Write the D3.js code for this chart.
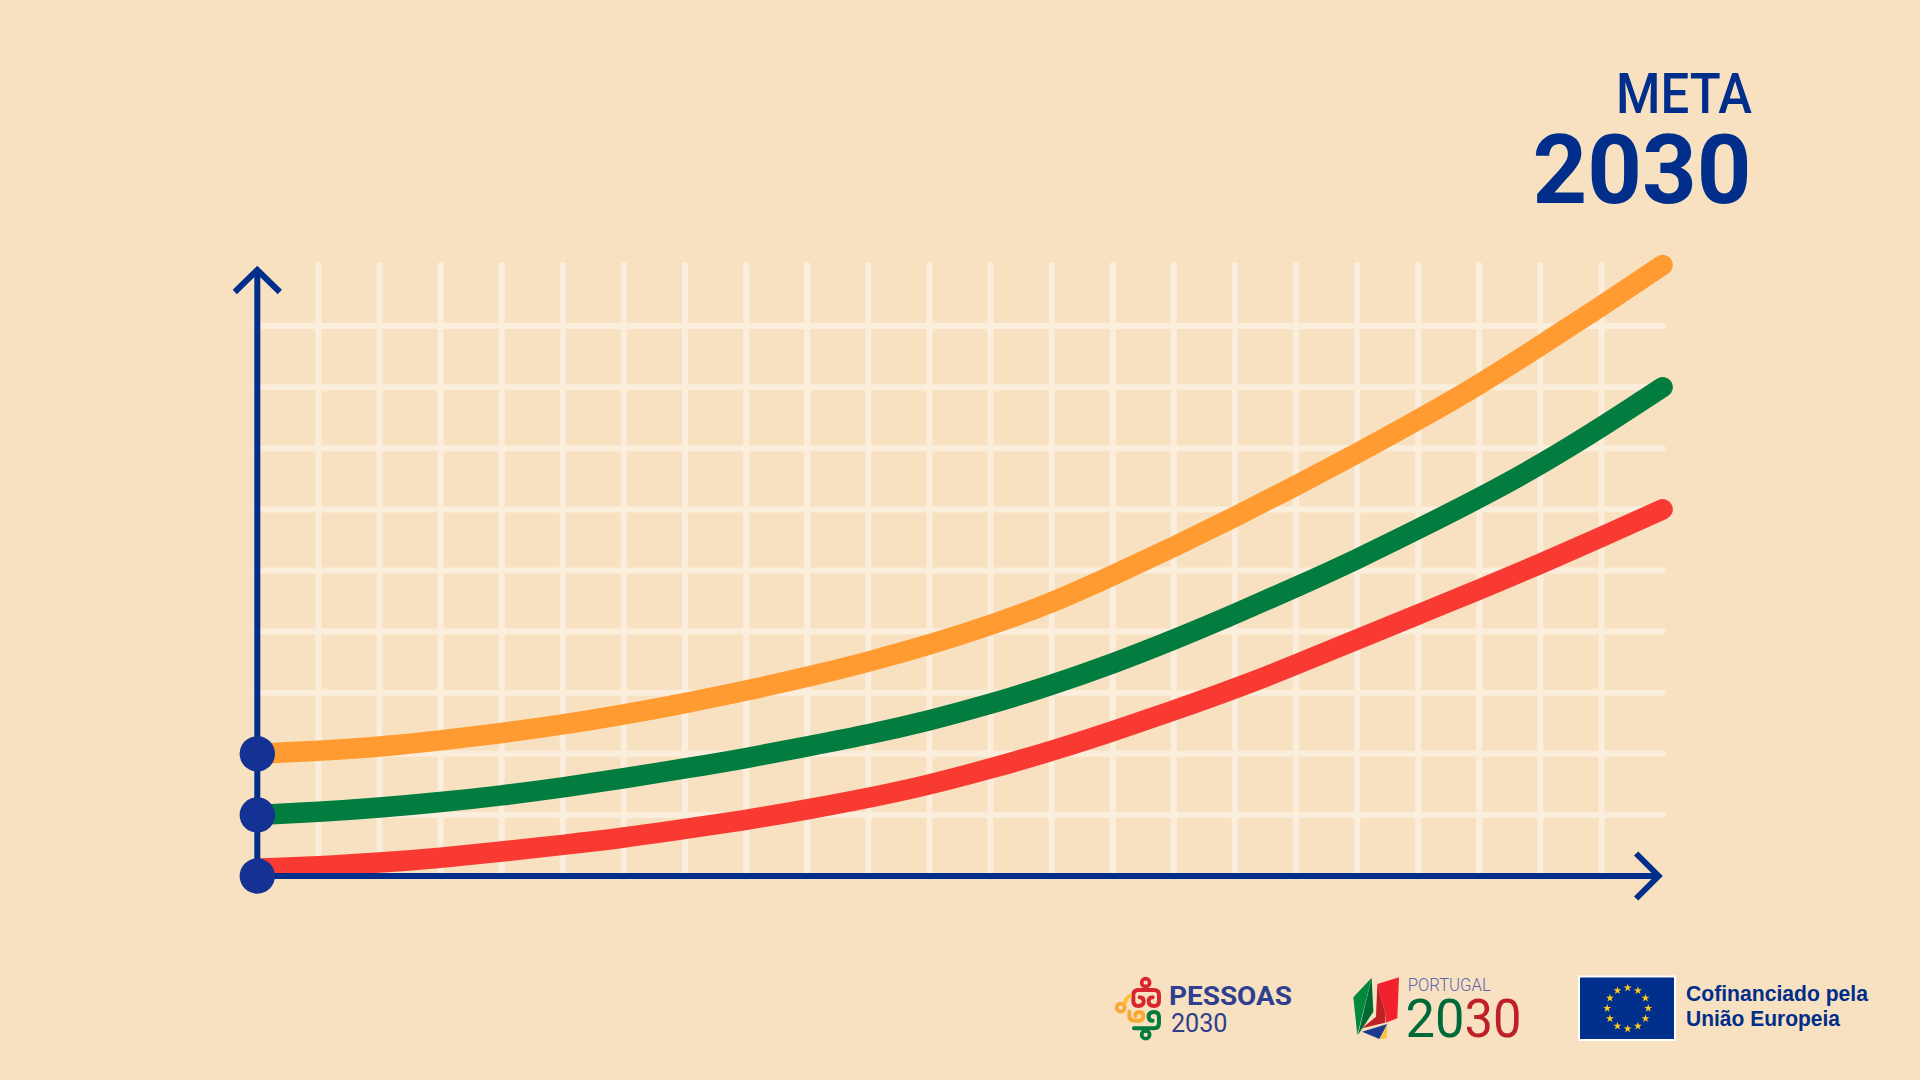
<!doctype html>
<html lang="pt">
<head>
	<meta charset="UTF-8">
	<title>Meta 2030</title>
	<style>
		html, body { margin: 0; padding: 0; background: #F8E1C1; }
		svg { display: block; }
	</style>
</head>
<body>
<script src="https://cdn.jsdelivr.net/npm/d3@7/dist/d3.min.js"></script>
<script>
// values, in grid squares from the origin
var steps = [0,1,2,3,4,5,6,7,8,9,10,11,12,13,14,15,16,17,18,19,20,21,22,23];
var orangeValues = [2.0,2.05,2.12,2.22,2.34,2.48,2.645,2.83,3.035,3.26,3.51,3.79,4.11,4.48,4.92,5.39,5.88,6.39,6.92,7.47,8.05,8.68,9.33,10.0];
var greenValues = [1.0,1.05,1.12,1.21,1.32,1.45,1.60,1.76,1.93,2.12,2.32,2.55,2.82,3.13,3.48,3.87,4.29,4.73,5.19,5.68,6.19,6.74,7.35,8.0];
var redValues = [0.12,0.16,0.22,0.30,0.40,0.51,0.63,0.77,0.92,1.09,1.28,1.50,1.76,2.05,2.37,2.71,3.07,3.46,3.87,4.28,4.69,5.11,5.55,6.0];
var startDots = [2, 1, 0];
var gridColumns = [1,2,3,4,5,6,7,8,9,10,11,12,13,14,15,16,17,18,19,20,21,22];
var gridRows = [1,2,3,4,5,6,7,8,9];

var WIDTH = 1920, HEIGHT = 1080;
var NAVY = "#002E8A", GRID = "#FBEEDD";

var svg = d3.select("body").append("svg")
	.attr("width", WIDTH)
	.attr("height", HEIGHT)
	.style("background", "#F8E1C1");

var x = d3.scaleLinear().domain([0, 23]).range([257.3, 1662.6]);
var y = d3.scaleLinear().domain([0, 10]).range([876, 265]);

// grid, done with plain axes with long ticks
var gridX = svg.append("g")
	.attr("transform", "translate(0," + y(0) + ")")
	.call(d3.axisBottom(x).tickValues(gridColumns).tickFormat("").tickSize(y(10) - y(0)).offset(0));
var gridY = svg.append("g")
	.attr("transform", "translate(" + x(0) + ",0)")
	.call(d3.axisLeft(y).tickValues(gridRows).tickFormat("").tickSize(x(0) - x(23)).offset(0));
[gridX, gridY].forEach(function(g) {
	g.select(".domain").remove();
	g.selectAll("line")
		.attr("stroke", GRID)
		.attr("stroke-width", 6)
		.attr("stroke-linecap", "round");
});

// curves
var line = d3.line()
	.x(function(d, i) { return x(steps[i]); })
	.y(function(d) { return y(d); })
	.curve(d3.curveNatural);

var curves = [
	{ values: redValues, color: "#F93A33" },
	{ values: greenValues, color: "#027D3F" },
	{ values: orangeValues, color: "#FF9B30" }
];
svg.selectAll("path.curve")
	.data(curves)
	.enter()
	.append("path")
	.attr("class", "curve")
	.attr("d", function(d) { return line(d.values); })
	.attr("fill", "none")
	.attr("stroke", function(d) { return d.color; })
	.attr("stroke-width", 20.5)
	.attr("stroke-linecap", "round");

// axes with their arrow heads
var axisPath = d3.path();
axisPath.moveTo(x(0), y(0));
axisPath.lineTo(x(0), y(10) + 5);
axisPath.moveTo(x(0) - 22.5, y(10) + 27);
axisPath.lineTo(x(0), y(10) + 5);
axisPath.lineTo(x(0) + 22.5, y(10) + 27);
axisPath.moveTo(x(0), y(0));
axisPath.lineTo(x(23) - 4, y(0));
axisPath.moveTo(x(23) - 26.5, y(0) - 22.5);
axisPath.lineTo(x(23) - 4, y(0));
axisPath.lineTo(x(23) - 26.5, y(0) + 22.5);
svg.append("path")
	.attr("d", axisPath.toString())
	.attr("fill", "none")
	.attr("stroke", NAVY)
	.attr("stroke-width", 6);

svg.selectAll("circle.start")
	.data(startDots)
	.enter()
	.append("circle")
	.attr("class", "start")
	.attr("cx", x(0))
	.attr("cy", function(d) { return y(d); })
	.attr("r", 17.7)
	.attr("fill", "#143293");

// title
function label(parent, str, px, py, size, weight, fam, color, len) {
	return parent.append("text")
		.attr("x", px)
		.attr("y", py)
		.attr("font-family", fam)
		.attr("font-size", size)
		.attr("font-weight", weight)
		.attr("fill", color)
		.attr("textLength", len)
		.attr("lengthAdjust", "spacingAndGlyphs")
		.text(str);
}
label(svg, "META", 1616, 112.7, 55, 500, "Roboto", NAVY, 136);
label(svg, "2030", 1532.5, 202.7, 97, 700, "Roboto", NAVY, 219);

// logos at the bottom, sketched at 3x so the coordinates match the crops
var logoA = svg.append("g").attr("transform", "translate(1080,960) scale(0.3333)");
function curl(d, color) {
	logoA.append("path").attr("d", d).attr("fill", "none").attr("stroke", color)
		.attr("stroke-width", 12).attr("stroke-linecap", "round");
}
function ring(cx, cy, color) {
	logoA.append("circle").attr("cx", cx).attr("cy", cy).attr("r", 12).attr("fill", "none")
		.attr("stroke", color).attr("stroke-width", 11);
}
ring(197, 68, "#D9262E");
curl("M197,80 L197,90 M175,90 L222,90 Q237,90 237,105 L237,122 Q237,138 222,138 Q206,138 206,124 Q206,112 218,112", "#D9262E");
curl("M175,90 Q160,90 160,105 L160,122 Q160,138 175,138 Q191,138 191,124 Q191,112 179,112", "#D9262E");
ring(122, 143, "#F9A833");
curl("M150,108 Q135,115 135,130", "#FBBE3A");
curl("M148,155 L148,168 Q148,182 165,182 L175,182 Q190,182 190,168 Q190,156 178,156 Q166,156 166,168", "#F9A833");
ring(197, 224, "#037B3E");
curl("M197,212 L197,205 M162,205 L222,205 Q237,205 237,190 L237,172 Q237,156 222,156 Q206,156 206,170 Q206,182 218,182", "#037B3E");

label(svg, "PESSOAS", 1169, 1005, 25, 700, "Roboto", "#2E3F8F", 123);
label(svg, "2030", 1171, 1031.7, 26, 400, "Roboto", "#2E3F8F", 56.5);

var logoB = svg.append("g").attr("transform", "translate(1340,960) scale(0.3333)");
var wing = [
	{ pts: "95,53 40,112 52,225", color: "#00893E" },
	{ pts: "95,53 100,155 54,225", color: "#006A35" },
	{ pts: "112,72 177,52 172,175 137,188 136,160", color: "#F1222E" },
	{ pts: "112,72 136,160 135,188 66,205 108,170", color: "#BE2026" },
	{ pts: "66,215 142,192 118,237", color: "#1D3A8F" },
	{ pts: "142,192 140,235 120,237", color: "#F9C33A" }
];
logoB.selectAll("polygon")
	.data(wing)
	.enter()
	.append("polygon")
	.attr("points", function(d) { return d.pts; })
	.attr("fill", function(d) { return d.color; });

label(svg, "PORTUGAL", 1407.7, 991, 18, 300, "Roboto", "#5A66AE", 83);
label(svg, "20", 1405.5, 1037.3, 53, 400, "Roboto", "#00693A", 59);
label(svg, "30", 1464.5, 1037.3, 53, 400, "Roboto", "#BE2026", 57);

// EU flag
svg.append("rect")
	.attr("x", 1579).attr("y", 976.5)
	.attr("width", 96).attr("height", 63.5)
	.attr("fill", "#002F8C")
	.attr("stroke", "#FFFFFF")
	.attr("stroke-width", 2);
var star = d3.symbol().type(d3.symbolStar).size(20);
svg.selectAll("path.star")
	.data(d3.range(12))
	.enter()
	.append("path")
	.attr("class", "star")
	.attr("d", star)
	.attr("fill", "#FFC81E")
	.attr("transform", function(i) {
		var a = i * Math.PI / 6;
		return "translate(" + (1627.7 + 20.5 * Math.sin(a)) + "," + (1008.3 - 20.5 * Math.cos(a)) + ")";
	});

label(svg, "Cofinanciado pela", 1686, 1000.7, 21.5, 700, "Liberation Sans", NAVY, 182);
label(svg, "União Europeia", 1686, 1026, 21.5, 700, "Liberation Sans", NAVY, 154);
</script>
</body>
</html>
